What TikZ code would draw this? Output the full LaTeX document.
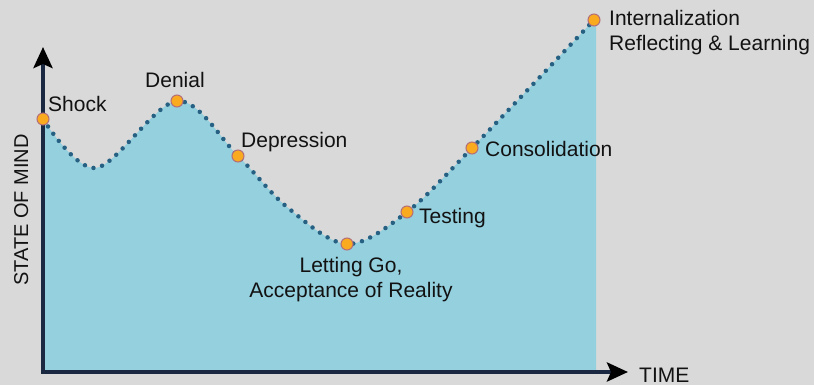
\documentclass[tikz,border=0pt]{standalone}
\usepackage{fontspec}
\setmainfont{Liberation Sans}
\usetikzlibrary{arrows.meta}
\definecolor{bggray}{HTML}{D9D9D9}
\definecolor{areablue}{HTML}{94D0DE}
\definecolor{curveblue}{HTML}{266082}
\definecolor{axisnavy}{HTML}{1B2842}
\definecolor{stageorange}{HTML}{FAAA1E}
\definecolor{stagerim}{HTML}{B46E78}
\tikzset{
  stage/.style={circle, minimum size=12pt, inner sep=0pt, fill=stageorange, draw=stagerim, line width=1pt},
  lbl/.style={inner sep=0pt, font=\fontsize{21}{25}\selectfont, text=black!93},
  axisline/.style={draw=axisnavy, line width=4pt, line join=miter,
    {Stealth[length=21pt, width=19pt, inset=4pt, color=black]}-{Stealth[length=21pt, width=19pt, inset=4pt, color=black]}},
  curvedots/.style={draw=curveblue, line width=4.5pt, line cap=round, dash pattern=on 0pt off 9pt},
}
\newcommand{\mindcurve}{plot[smooth, tension=0.55] coordinates {(43,119) (96,168) (177,101) (238,156) (287,207) (347,244) (407,212) (472,148) (594,20)}}
\begin{document}
\begin{tikzpicture}[x=1pt, y=-1pt]
  % canvas
  \fill[bggray] (0,0) rectangle (814,385);
  \useasboundingbox (0,0) rectangle (814,385);

  % shaded area under the curve
  \fill[areablue] \mindcurve -- (596,20) -- (596,372) -- (43,372) -- cycle;

  % axes
  \coordinate (ytip) at (43,47);
  \coordinate (origin) at (43,372);
  \coordinate (xtip) at (628,372);
  \draw[axisline] (ytip) -- (origin) -- (xtip);

  % dotted curve
  \draw[curvedots] \mindcurve;

  % stages
  \node[stage] (shock) at (43,119) {};
  \node[stage] (denial) at (177,101) {};
  \node[stage] (depression) at (238,156) {};
  \node[stage] (lettinggo) at (347,244) {};
  \node[stage] (testing) at (407,212) {};
  \node[stage] (consolidation) at (472,148) {};
  \node[stage] (internalization) at (594,20) {};

  % labels (multi-line nodes are anchored on their last baseline)
  \node[lbl, anchor=base west] (tshock) at (48,112) {Shock};
  \node[lbl, anchor=base] (tdenial) at (175,88) {Denial};
  \node[lbl, anchor=base west] (tdepression) at (241,148) {Depression};
  \node[lbl, anchor=base, align=center] (tlettinggo) at (351,297) {Letting Go,\\Acceptance of Reality};
  \node[lbl, anchor=base west] (ttesting) at (419,223) {Testing};
  \node[lbl, anchor=base west] (tconsolidation) at (485,157) {Consolidation};
  \node[lbl, anchor=base west, align=left] (tinternalization) at (609,51) {Internalization\\Reflecting \& Learning};
  \node[lbl, anchor=base west] (ttime) at (639,382) {TIME};
  \node[lbl, font=\fontsize{20}{24}\selectfont, rotate=90, anchor=base] (tmind) at (28,210) {STATE OF MIND};
\end{tikzpicture}
\end{document}
